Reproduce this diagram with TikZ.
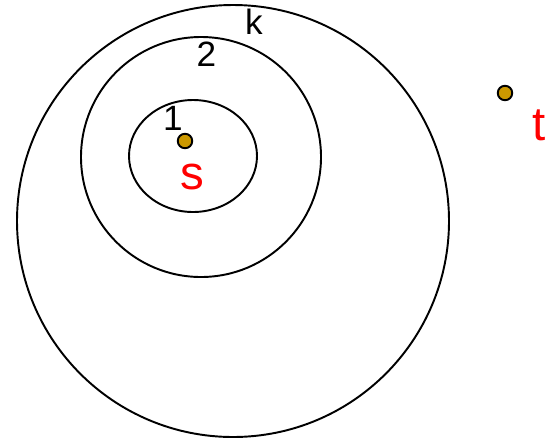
\documentclass[tikz,border=0pt]{standalone}
\usepackage{fontspec}
\setmainfont{Liberation Sans}
\usepackage{xcolor}
\definecolor{dotgold}{RGB}{204,153,0}

\begin{document}
\begin{tikzpicture}[line width=1.1pt,line cap=round,
  vertex/.style={circle,draw=black,fill=dotgold,line width=1.1pt,minimum size=0.29cm,inner sep=0pt},
  levellabel/.style={inner sep=0pt,font=\fontsize{20}{20}\selectfont},
  endlabel/.style={inner sep=0pt,text=red,font=\fontsize{27}{27}\selectfont}]
\useasboundingbox (0,0) rectangle (10.92,8.82);
% levels around s
\draw (4.66,4.40) circle (4.32);
\draw (4.02,5.68) circle (2.40);
\draw (3.86,5.70) ellipse (1.28 and 1.12);
% level numbers
\node[levellabel] (lk) at (5.08,8.38) {k};
\node[levellabel] (l2) at (4.13,7.74) {2};
\node[levellabel] (l1) at (3.46,6.46) {1};
% source and target
\node[vertex] (s) at (3.70,6.00) {};
\node[endlabel] (slab) at (3.84,5.29) {s};
\node[vertex] (t) at (10.10,6.96) {};
\node[endlabel] (tlab) at (10.78,6.32) {t};
\end{tikzpicture}
\end{document}
